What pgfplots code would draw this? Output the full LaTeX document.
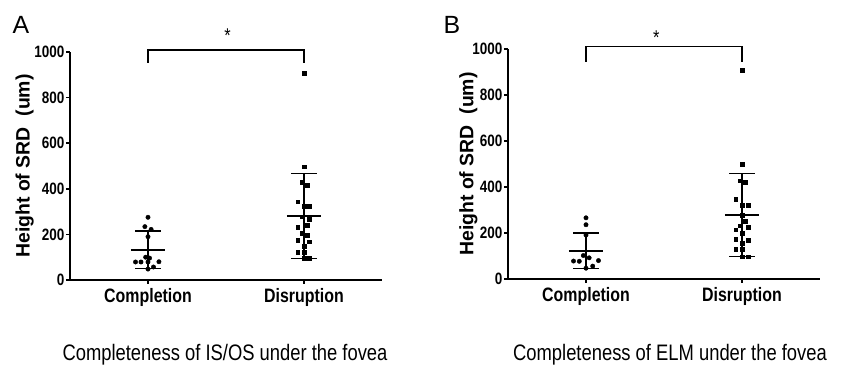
\documentclass[border=0pt]{standalone}
\usepackage{fontspec}
\setmainfont{Liberation Sans}[FakeStretch=0.82]
\newfontfamily\ylabfont{Liberation Sans}
\usepackage{pgfplots}
\pgfplotsset{compat=1.18}
\pgfplotsset{
  srd/.style={
    scale only axis, anchor=south west,
    width=312bp,
    xmin=0.5, xmax=2.5, ymin=0, ymax=1000,
    axis x line=bottom, axis y line=left,
    axis line style={-, line width=1.5bp, black},
    tick style={line width=1.5bp, black},
    tick align=outside, major tick length=4bp,
    xtick={1,2}, xticklabels={Completion,Disruption},
    ytick={0,200,400,600,800,1000},
    /pgf/number format/assume math mode=true,
    /pgf/number format/1000 sep={},
    yticklabel style={font=\bfseries\fontsize{16.5}{20}\selectfont, inner xsep=1.5bp},
    xticklabel style={font=\bfseries\fontsize{19.5}{22}\selectfont, yshift=-1bp},
    ylabel={Height of SRD\ \ (um)},
    ylabel style={font=\ylabfont\bfseries\fontsize{19.5}{22}\selectfont, anchor=center},
    clip=false,
  },
  pts/.style={only marks, mark=*, mark size=2.2bp, black},
  sq/.style={only marks, mark=square*, mark size=1.9bp, black},
  bar/.style={black, line width=1.5bp, no marks},
}
\begin{document}
\begin{tikzpicture}
\path[use as bounding box] (0,0) rectangle (841bp,366bp);
% ---------- Panel A ----------
\begin{axis}[srd, at={(70bp,86bp)}, height=228bp,
  ylabel style={at={(axis description cs:-0.145,0.5)}}]
\addplot[pts] coordinates {
(1.00,275) (0.98,234) (1.02,222) (1.00,190) (0.985,100) (1.01,96)
(0.92,79) (0.955,79) (1.00,79) (1.07,80) (1.035,57) (1.00,48)};
\addplot[sq] coordinates {
(2.00,906) (2.00,497) (1.99,428) (2.02,417) (1.96,343) (2.035,322) (2.00,322)
(1.99,278) (2.035,266) (1.96,231) (2.02,241) (1.99,205) (2.02,197)
(1.96,175) (2.035,168) (2.00,149) (1.96,121) (2.00,121) (2.00,95) (2.035,95)};
% Completion mean and SD
\addplot[bar] coordinates {(0.89,132) (1.11,132)};
\addplot[bar] coordinates {(0.917,215) (1.083,215)};
\addplot[bar] coordinates {(0.917,51) (1.083,51)};
\addplot[bar] coordinates {(1,51) (1,215)};
% Disruption mean and SD
\addplot[bar] coordinates {(1.89,280) (2.11,280)};
\addplot[bar] coordinates {(1.917,467) (2.083,467)};
\addplot[bar] coordinates {(1.917,95) (2.083,95)};
\addplot[bar] coordinates {(2,95) (2,467)};
% significance bracket
\addplot[bar] coordinates {(1,952) (1,1009) (2,1009) (2,952)};
\node[font=\fontsize{20}{22}\selectfont] at (axis cs:1.51,1070) {*};
\end{axis}
% ---------- Panel B ----------
\begin{axis}[srd, at={(508bp,87bp)}, height=230bp,
  ylabel style={at={(axis description cs:-0.127,0.5)}}]
\addplot[pts] coordinates {
(1.00,266) (1.00,236) (1.00,191) (0.983,102) (1.02,92) (0.92,78) (0.957,77)
(1.08,80) (1.043,56) (1.00,47)};
\addplot[sq] coordinates {
(2.00,909) (2.00,500) (1.99,427) (2.02,420) (1.96,348) (2.04,322) (2.00,322)
(2.00,278) (2.02,253) (2.04,225) (1.985,232) (1.96,214) (2.00,198)
(1.96,174) (2.04,170) (2.00,155) (1.96,130) (2.00,130) (2.00,97) (2.04,97)};
\addplot[bar] coordinates {(0.89,122) (1.11,122)};
\addplot[bar] coordinates {(0.917,199) (1.083,199)};
\addplot[bar] coordinates {(0.917,45) (1.083,45)};
\addplot[bar] coordinates {(1,45) (1,199)};
\addplot[bar] coordinates {(1.89,278) (2.11,278)};
\addplot[bar] coordinates {(1.917,459) (2.083,459)};
\addplot[bar] coordinates {(1.917,97) (2.083,97)};
\addplot[bar] coordinates {(2,97) (2,459)};
\addplot[bar] coordinates {(1,945) (1,1010) (2,1010) (2,945)};
\node[font=\fontsize{20}{22}\selectfont] at (axis cs:1.45,1050) {*};
\end{axis}
% ---------- panel letters and captions ----------
\node[font=\ylabfont\fontsize{25}{27}\selectfont] at (21bp,341bp) {A};
\node[font=\ylabfont\fontsize{25}{27}\selectfont] at (452bp,341bp) {B};
\node[font=\fontsize{22.5}{24}\selectfont] at (225bp,11bp) {Completeness of IS/OS under the fovea};
\node[font=\fontsize{22.5}{24}\selectfont] at (670bp,11bp) {Completeness of ELM under the fovea};
\end{tikzpicture}
\end{document}
